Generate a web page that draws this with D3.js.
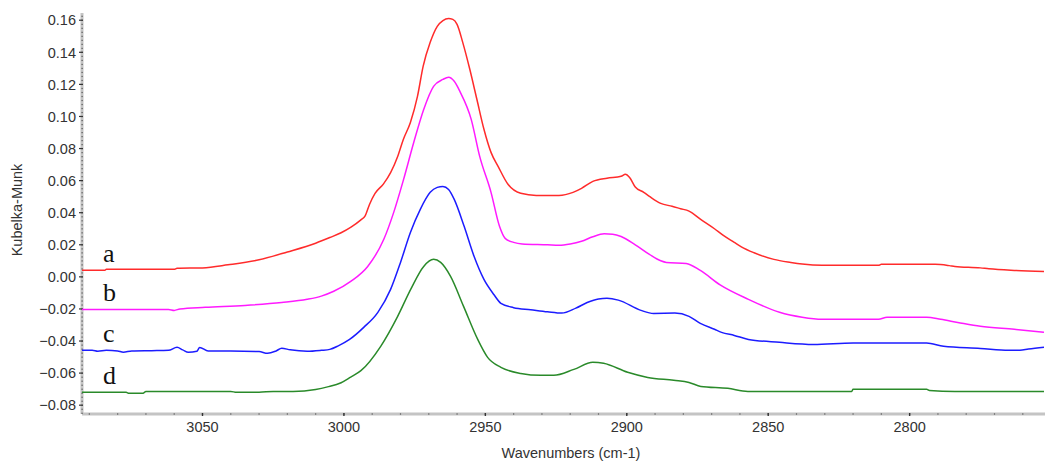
<!DOCTYPE html>
<html>
<head>
<meta charset="utf-8">
<script src="https://cdn.jsdelivr.net/npm/d3@7/dist/d3.min.js"></script>
<style>
  html, body { margin: 0; padding: 0; background: #fff; }
  svg { display: block; }
  .tick-label { font-family: "Liberation Sans", Arial, sans-serif; font-size: 14.5px; fill: #333; }
  .axis-title { font-family: "Liberation Sans", Arial, sans-serif; font-size: 14.5px; fill: #333; }
  .trace-label { font-family: "Liberation Serif", "Times New Roman", serif; font-size: 26px; fill: #111; }
</style>
</head>
<body>
<svg id="chart" width="1045" height="463"></svg>
<script>
// Diffuse-reflectance spectra (Kubelka-Munk units) in the C-H stretching region.
// Each trace: wavenumbers (cm-1) and Kubelka-Munk values.

const waveA = [3092.6, 3084.5, 3084, 3060, 3059, 3050, 3041, 3030, 3020, 3010, 3005, 3001, 2997.5, 2994, 2992.5,
  2991, 2989, 2986, 2983.5, 2981, 2979, 2976.5, 2974, 2972, 2969.5, 2967, 2965, 2963, 2961.5, 2960, 2958, 2955.5,
  2953, 2950.5, 2948, 2945.5, 2942, 2937.5, 2932, 2924, 2919, 2916, 2912, 2907, 2902, 2900.5, 2899, 2897, 2894,
  2892, 2888, 2884, 2881, 2878, 2874, 2869, 2866, 2862, 2859.5, 2855, 2848, 2842, 2838, 2831, 2811, 2810, 2791,
  2786, 2784, 2775, 2772, 2763, 2752.5];
const valA = [0.0041, 0.0041, 0.0047, 0.0047, 0.0053, 0.0056, 0.0075, 0.0106, 0.0155, 0.0210, 0.0245, 0.0275, 0.0310, 0.0355, 0.0380,
  0.0450, 0.0520, 0.0580, 0.0650, 0.0751, 0.0857, 0.0963, 0.1125, 0.1312, 0.1462, 0.1562, 0.1598, 0.1610, 0.1605, 0.1574, 0.1462, 0.1294,
  0.1107, 0.0920, 0.0776, 0.0689, 0.0577, 0.0521, 0.0508, 0.0508, 0.0527, 0.0552, 0.0595, 0.0615, 0.0627, 0.0640, 0.0620, 0.0560, 0.0527,
  0.0502, 0.0458, 0.0440, 0.0425, 0.0410, 0.0360, 0.0300, 0.0260, 0.0215, 0.0187, 0.0150, 0.0109, 0.0090, 0.0080, 0.0072, 0.0072, 0.0078, 0.0078,
  0.0070, 0.0065, 0.0056, 0.0050, 0.0040, 0.0034];

const waveB = [3092.6, 3062, 3060, 3058, 3049, 3035, 3022, 3013, 3008, 3003.6, 2997.6, 2991.6, 2985.9, 2982.4, 2978.9,
  2975.3, 2971.8, 2968.3, 2965, 2963, 2961, 2959, 2955, 2952, 2948, 2945, 2943, 2940, 2937, 2928, 2924, 2920,
  2916, 2912, 2908, 2905, 2902, 2897, 2892, 2888, 2886, 2879, 2874, 2867, 2857, 2846, 2838, 2831, 2811, 2808,
  2794, 2789, 2783, 2775, 2763, 2752.5];
const valB = [-0.0203, -0.0203, -0.0209, -0.0200, -0.0190, -0.0178, -0.0160, -0.0140, -0.0120, -0.0090, -0.0028, 0.0065, 0.0234, 0.0402, 0.0608,
  0.0839, 0.1044, 0.1188, 0.1231, 0.1244, 0.1219, 0.1156, 0.0982, 0.0751, 0.0527, 0.0315, 0.0240, 0.0215, 0.0205, 0.0200, 0.0197, 0.0205,
  0.0222, 0.0250, 0.0268, 0.0266, 0.0252, 0.0200, 0.0140, 0.0100, 0.0090, 0.0084, 0.0040, -0.0050, -0.0140, -0.0221, -0.0252, -0.0265, -0.0265, -0.0252,
  -0.0252, -0.0265, -0.0284, -0.0308, -0.0327, -0.0346];

const waveC = [3092.6, 3089, 3087, 3084, 3080, 3078, 3075, 3068, 3062, 3059, 3057, 3055, 3052, 3051, 3048, 3040,
  3030, 3027, 3024, 3022, 3019, 3013, 3008, 3005, 3002, 2998, 2993, 2988, 2983.5, 2980, 2976.5, 2973, 2969.5,
  2967, 2965, 2963, 2961, 2957.5, 2954, 2950.5, 2947, 2944.5, 2940, 2934, 2928, 2923, 2918, 2914, 2910,
  2907, 2903, 2895, 2890.5, 2883, 2878, 2874, 2869, 2866.5, 2862, 2857, 2846, 2834, 2820, 2794, 2788, 2775, 2765,
  2761, 2758, 2752.5];
const valC = [-0.0458, -0.0458, -0.0464, -0.0458, -0.0462, -0.0470, -0.0462, -0.0460, -0.0458, -0.0439, -0.0455, -0.0470, -0.0464, -0.0440, -0.0462, -0.0462,
  -0.0466, -0.0477, -0.0462, -0.0445, -0.0455, -0.0464, -0.0458, -0.0452, -0.0430, -0.0390, -0.0315, -0.0221, -0.0078, 0.0090, 0.0277, 0.0421, 0.0527,
  0.0558, 0.0564, 0.0545, 0.0483, 0.0315, 0.0128, -0.0016, -0.0110, -0.0165, -0.0192, -0.0205, -0.0218, -0.0226, -0.0195, -0.0160, -0.0138,
  -0.0134, -0.0145, -0.0209, -0.0228, -0.0226, -0.0246, -0.0290, -0.0327, -0.0346, -0.0365, -0.0390, -0.0408, -0.0421, -0.0412, -0.0412, -0.0433, -0.0446, -0.0458,
  -0.0458, -0.0450, -0.0439];

const waveD = [3092.6, 3077, 3076, 3071, 3070, 3040, 3038, 3030, 3025, 3018, 3010, 3005.8, 3001, 2997.6, 2994, 2987,
  2981, 2976.4, 2971.8, 2968.3, 2965.8, 2962.3, 2957.7, 2952.7, 2949.2, 2944.5, 2937.5, 2930.4, 2925.8, 2918.7, 2912,
  2908.2, 2899.7, 2892.6, 2883.4, 2878, 2873.8, 2864.3, 2857.2, 2820.5, 2820, 2794, 2793, 2784, 2752.5];
const valD = [-0.0720, -0.0720, -0.0726, -0.0726, -0.0714, -0.0714, -0.0720, -0.0720, -0.0714, -0.0714, -0.0702, -0.0686, -0.0660, -0.0625, -0.0585, -0.0433,
  -0.0246, -0.0078, 0.0065, 0.0109, 0.0090, 0.0003, -0.0184, -0.0390, -0.0502, -0.0564, -0.0602, -0.0614, -0.0614, -0.0577, -0.0533,
  -0.0539, -0.0595, -0.0627, -0.0645, -0.0658, -0.0683, -0.0695, -0.0714, -0.0714, -0.0701, -0.0701, -0.0708, -0.0714, -0.0714];

const traceNames = ["a", "b", "c", "d"];
const traceColors = ["#ff2b2b", "#ff1aff", "#1c1cff", "#2a8a2a"];
const xTickValues = [3050, 3000, 2950, 2900, 2850, 2800];
const yTickValues = [0.16, 0.14, 0.12, 0.10, 0.08, 0.06, 0.04, 0.02, 0.00, -0.02, -0.04, -0.06, -0.08];
const xTitle = "Wavenumbers (cm-1)";
const yTitle = "Kubelka-Munk";

const traces = [
  { name: traceNames[0], color: traceColors[0], wave: waveA, val: valA },
  { name: traceNames[1], color: traceColors[1], wave: waveB, val: valB },
  { name: traceNames[2], color: traceColors[2], wave: waveC, val: valC },
  { name: traceNames[3], color: traceColors[3], wave: waveD, val: valD }
];

const svg = d3.select("#chart");
const plot = { left: 82, right: 1044, top: 13, bottom: 414 };

// Wavenumber axis runs high to low, as is customary for IR spectra.
const x = d3.scaleLinear().domain([3092.6, 2752.5]).range([plot.left, plot.right]);
const y = d3.scaleLinear().domain([-0.0855, 0.1645]).range([plot.bottom, plot.top]);

// Axis lines: light grey bars with dark dotted minor ticks
const axisG = svg.append("g");
axisG.append("line")
  .attr("x1", plot.left).attr("x2", plot.left)
  .attr("y1", plot.top).attr("y2", plot.bottom)
  .attr("stroke", "#c4c4c4").attr("stroke-width", 3);
axisG.append("line")
  .attr("x1", plot.left).attr("x2", 1045)
  .attr("y1", plot.bottom).attr("y2", plot.bottom)
  .attr("stroke", "#c4c4c4").attr("stroke-width", 3);

// y minor ticks every 0.0025
const yMinor = d3.range(-0.085, 0.1646, 0.0025);
axisG.selectAll(".ymin").data(yMinor).join("rect")
  .attr("x", plot.left - 0.5).attr("y", d => y(d) - 0.5)
  .attr("width", 1.2).attr("height", 1.2).attr("fill", "#555");
// y major ticks
axisG.selectAll(".ymaj").data(yTickValues).join("line")
  .attr("x1", plot.left - 3).attr("x2", plot.left + 1)
  .attr("y1", d => y(d)).attr("y2", d => y(d))
  .attr("stroke", "#333").attr("stroke-width", 1.2);
axisG.selectAll(".ylab").data(yTickValues).join("text")
  .attr("class", "tick-label")
  .attr("x", plot.left - 6).attr("y", d => y(d))
  .attr("dy", "0.36em").attr("text-anchor", "end")
  .text(d => d3.format(".2f")(d));

// x minor ticks every 10 cm-1
const xMinor = d3.range(3090, 2752, -10);
axisG.selectAll(".xmin").data(xMinor).join("rect")
  .attr("x", d => x(d) - 0.6).attr("y", plot.bottom - 0.6)
  .attr("width", 1.2).attr("height", 1.2).attr("fill", "#555");
axisG.selectAll(".xmaj").data(xTickValues).join("line")
  .attr("x1", d => x(d)).attr("x2", d => x(d))
  .attr("y1", plot.bottom - 1).attr("y2", plot.bottom + 2)
  .attr("stroke", "#333").attr("stroke-width", 1.4);
axisG.selectAll(".xlab").data(xTickValues).join("text")
  .attr("class", "tick-label")
  .attr("x", d => x(d)).attr("y", 432)
  .attr("text-anchor", "middle")
  .text(d => d);

// Axis titles
svg.append("text").attr("class", "axis-title")
  .attr("x", 571).attr("y", 458).attr("text-anchor", "middle")
  .text(xTitle);
svg.append("text").attr("class", "axis-title")
  .attr("transform", "translate(22,210) rotate(-90)")
  .attr("text-anchor", "middle")
  .text(yTitle);

// Spectra
const line = d3.line()
  .x(d => x(d[0]))
  .y(d => y(d[1]))
  .curve(d3.curveMonotoneX);

svg.append("g").selectAll("path").data(traces).join("path")
  .attr("fill", "none")
  .attr("stroke", d => d.color)
  .attr("stroke-width", 1.5)
  .attr("stroke-linejoin", "round")
  .attr("d", d => line(d.wave.map((w, i) => [w, d.val[i]]).sort((p, q) => p[0] - q[0])));

// Trace letters placed just above each baseline
svg.append("g").selectAll("text").data(traces).join("text")
  .attr("class", "trace-label")
  .attr("x", 103)
  .attr("y", d => y(d.val[0]) - 8)
  .text(d => d.name);
</script>
</body>
</html>
